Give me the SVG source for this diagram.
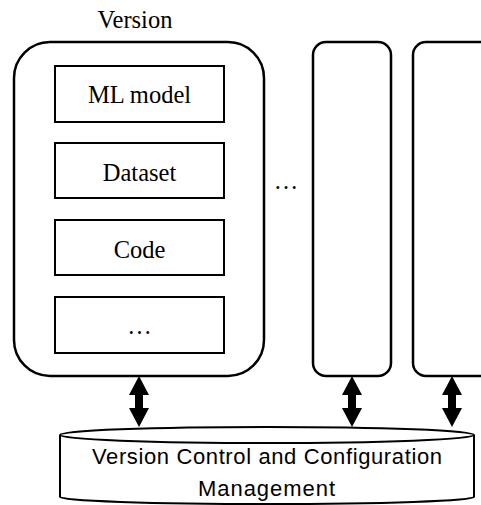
<svg xmlns="http://www.w3.org/2000/svg" width="481" height="505" viewBox="0 0 481 505">
  <style>
    .frame { fill: #fff; stroke: #000; stroke-width: 2.5; }
    .item { fill: #fff; stroke: #000; stroke-width: 2; }
    .serif { font-family: "Liberation Serif", "Times New Roman", serif; font-size: 24.5px; fill: #000; text-anchor: middle; }
    .sans { font-family: "Liberation Sans", Arial, sans-serif; font-size: 22px; fill: #000; text-anchor: middle; }
    .arrow { fill: #000; stroke: none; }
  </style>
  <defs>
    <!-- double-headed block arrow, tip at origin, 51 px long -->
    <path id="dbl" d="M0,0 L10,19 L4,19 L4,32 L10,32 L0,51 L-10,32 L-4,32 L-4,19 L-10,19 Z"/>
  </defs>

  <text class="serif" x="135" y="28">Version</text>

  <g id="version">
    <rect class="frame" x="14" y="42" width="250" height="334" rx="36" ry="36"/>
  </g>
  <g id="ml-model">
    <rect class="item" x="55" y="66" width="169" height="56"/>
    <text class="serif" x="139.5" y="103">ML model</text>
  </g>
  <g id="dataset">
    <rect class="item" x="55" y="143" width="169" height="55"/>
    <text class="serif" x="139.5" y="180.5">Dataset</text>
  </g>
  <g id="code">
    <rect class="item" x="55" y="220" width="169" height="55"/>
    <text class="serif" x="139.5" y="257.5">Code</text>
  </g>
  <g id="more-items">
    <rect class="item" x="55" y="297" width="169" height="56"/>
    <text class="serif" x="139.5" y="334">…</text>
  </g>

  <text class="serif" x="286" y="189">…</text>

  <g id="version-2">
    <rect class="frame" x="313" y="42" width="78" height="334" rx="13" ry="13"/>
  </g>
  <g id="version-3">
    <rect class="frame" x="413" y="42" width="90" height="334" rx="13" ry="13"/>
  </g>

  <g id="vcs">
    <path class="item" d="M60,435 L60,497 A207,7 0 0 0 474,497 L474,435"/>
    <ellipse class="item" cx="267" cy="435" rx="207" ry="8"/>
    <text class="sans" x="267" y="464" textLength="350" lengthAdjust="spacing">Version Control and Configuration</text>
    <text class="sans" x="266.5" y="496" textLength="137" lengthAdjust="spacing">Management</text>
  </g>

  <g id="connectors">
    <use href="#dbl" class="arrow" x="139" y="376"/>
    <use href="#dbl" class="arrow" x="352" y="376"/>
    <use href="#dbl" class="arrow" x="452" y="376"/>
  </g>
</svg>
